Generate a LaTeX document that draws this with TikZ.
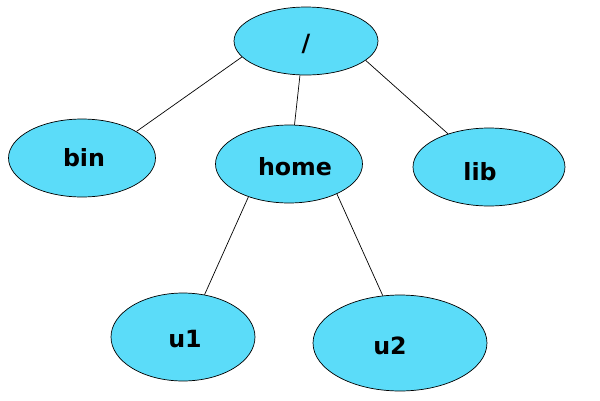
\documentclass[tikz,border=0pt]{standalone}
\usepackage{fontspec}
\setsansfont{DejaVu Sans}
\usetikzlibrary{shapes.geometric}
\definecolor{dircyan}{RGB}{91,220,249}

\begin{document}
\begin{tikzpicture}[x=0.02cm, y=-0.02cm,
    dir/.style={ellipse, draw, fill=dircyan, line width=0.4pt, inner sep=0pt},
    dirtext/.style={font=\sffamily\bfseries\fontsize{13.5}{15}\selectfont},
    edge/.style={line width=0.4pt}]
    \useasboundingbox (0,0) rectangle (600,400);
    % directories, the text sits a bit off centre as in the sketch
    \node[dir, minimum width=2.88cm, minimum height=1.36cm,
      label={[dirtext, yshift=-0.06cm]center:/}] (root) at (306,41) {};
    \node[dir, minimum width=2.94cm, minimum height=1.56cm,
      label={[dirtext, xshift=0.04cm]center:bin}] (bin) at (82,158) {};
    \node[dir, minimum width=2.94cm, minimum height=1.56cm,
      label={[dirtext, xshift=0.12cm, yshift=-0.06cm]center:home}] (home) at (289,164) {};
    \node[dir, minimum width=3.04cm, minimum height=1.56cm,
      label={[dirtext, xshift=-0.18cm, yshift=-0.1cm]center:lib}] (lib) at (489,167) {};
    \node[dir, minimum width=2.88cm, minimum height=1.76cm,
      label={[dirtext, xshift=0.04cm, yshift=-0.04cm]center:u1}] (u1) at (183,337) {};
    \node[dir, minimum width=3.48cm, minimum height=1.92cm,
      label={[dirtext, xshift=-0.2cm, yshift=-0.06cm]center:u2}] (u2) at (400,343) {};
    \draw[edge] (root.194) -- (bin.26);
    \draw[edge] (root.260) -- (home.82);
    \draw[edge] (root.342) -- (lib.141);
    \draw[edge] (home.219) -- (u1.63);
    \draw[edge] (home.328) -- (u2.110);
  \end{tikzpicture}
\end{document}
